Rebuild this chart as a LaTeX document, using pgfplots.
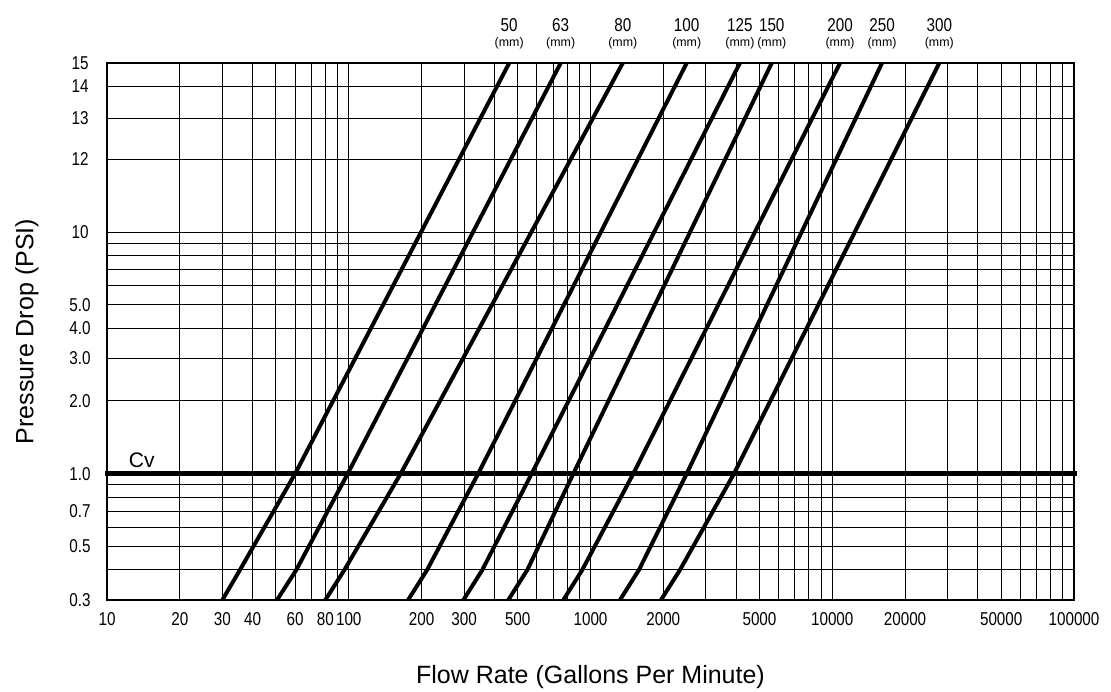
\documentclass[border=0pt]{standalone}
\usepackage{fontspec}
\setmainfont{Liberation Sans}
\newfontfamily\narrowfont{Liberation Sans}[FakeStretch=0.82]
\usepackage{pgfplots}
\pgfplotsset{compat=1.18}

\tikzset{
  curve/.style={black, solid, line width=2pt, line join=round},
  size label/.style={pos=1, anchor=center, yshift=19pt, font=\narrowfont\fontsize{9.3}{10}\selectfont},
  mm label/.style={pos=1, anchor=center, yshift=10pt, font=\fontsize{6.2}{7}\selectfont},
}

\begin{document}
\begin{tikzpicture}
\begin{axis}[
  scale only axis,
  width=483.5pt, height=268.5pt,
  xmode=log,
  xmin=10, xmax=100000,
  ymin=0.3, ymax=15,
  % log scale up to 10, stretched scale above (as on the original sheet)
  y coord trafo/.code={\pgfmathparse{(#1<10.0001) ? log10(#1) : ((#1<12.0001) ? 1+(#1-10)*0.15085 : ((#1<13.0001) ? 1.3017+(#1-12)*0.1683 : ((#1<14.0001) ? 1.4700+(#1-13)*0.1330 : 1.6030+(#1-14)*0.0970)))}},
  xtick={10,20,30,40,60,80,100,200,300,500,1000,2000,5000,10000,20000,50000,100000},
  xticklabels={10,20,30,40,60,80,100,200,300,500,1000,2000,5000,10000,20000,50000,100000},
  minor xtick={50,70,90,400,600,700,800,900,3000,4000,6000,7000,8000,9000,30000,40000,60000,70000,80000,90000},
  ytick={0.3,0.5,0.7,1,2,3,4,5,10,12,13,14,15},
  yticklabels={0.3,0.5,0.7,1.0,2.0,3.0,4.0,5.0,10,12,13,14,15},
  minor ytick={0.4,0.6,0.8,0.9,6,7,8,9},
  grid=both,
  major grid style={black, line width=0.5pt},
  minor grid style={black, line width=0.5pt},
  axis line style={black, line width=0.6pt},
  major tick length=0pt, minor tick length=0pt,
  ticklabel style={font=\narrowfont\fontsize{9.3}{10}\selectfont},
  xticklabel style={yshift=-2.75pt},
  yticklabel style={anchor=center, xshift=-13.5pt},
  xlabel={Flow Rate (Gallons Per Minute)},
  ylabel={Pressure Drop (PSI)},
  label style={font=\fontsize{12.5}{14}\selectfont},
  xlabel style={at={([yshift=-38.5pt]axis description cs:0.5,0)}, anchor=center},
  ylabel style={at={([xshift=-40pt]axis description cs:0,0.5)}, anchor=center},
  clip=false,
]

% Cv reference line
\addplot[black, line width=2.5pt, line cap=rect] coordinates {(10,1) (100000,1)}
  node[pos=0.036, anchor=center, yshift=6.5pt, font=\fontsize{10.5}{12}\selectfont] {Cv};

% 50 mm
\addplot[curve] coordinates {(30,0.3) (35.5,0.4) (60,1) (461,15)}
  node[mm label] {(mm)} node[size label] {50};
% 63 mm
\addplot[curve] coordinates {(50.5,0.3) (60.7,0.4) (99,1) (753,15)}
  node[mm label] {(mm)} node[size label] {63};
% 80 mm
\addplot[curve] coordinates {(80,0.3) (96,0.4) (164,1) (1360,15)}
  node[mm label] {(mm)} node[size label] {80};
% 100 mm
\addplot[curve] coordinates {(176,0.3) (211,0.4) (343,1) (2500,15)}
  node[mm label] {(mm)} node[size label] {100};
% 125 mm
\addplot[curve] coordinates {(298,0.3) (357,0.4) (571,1) (4150,15)}
  node[mm label] {(mm)} node[size label] {125};
% 150 mm
\addplot[curve] coordinates {(457,0.3) (548,0.4) (849,1) (5620,15)}
  node[mm label] {(mm)} node[size label] {150};
% 200 mm
\addplot[curve] coordinates {(772,0.3) (925,0.4) (1503,1) (10770,15)}
  node[mm label] {(mm)} node[size label] {200};
% 250 mm
\addplot[curve] coordinates {(1324,0.3) (1587,0.4) (2500,1) (16065,15)}
  node[mm label] {(mm)} node[size label] {250};
% 300 mm
\addplot[curve] coordinates {(1957,0.3) (2346,0.4) (3923,1) (27720,15)}
  node[mm label] {(mm)} node[size label] {300};

\end{axis}
\pgfresetboundingbox
\path[use as bounding box] ([xshift=-53.5pt,yshift=-45.5pt]current axis.south west) rectangle ([xshift=18.5pt,yshift=31.5pt]current axis.north east);
\end{tikzpicture}
\end{document}
